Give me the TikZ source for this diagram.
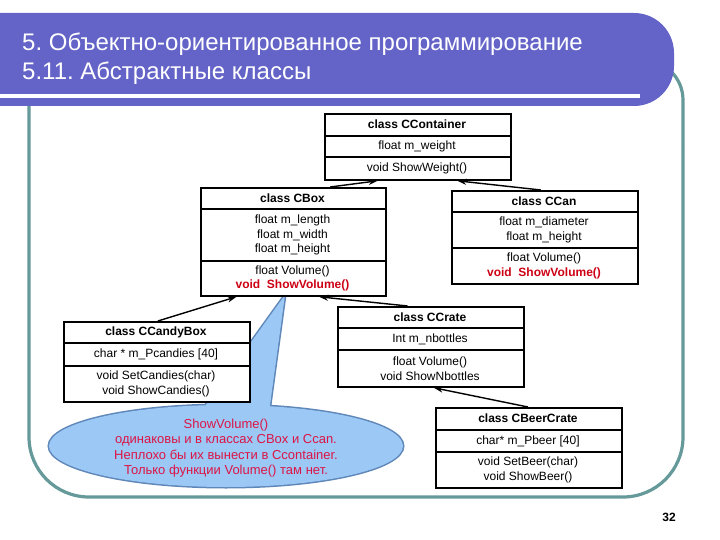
\documentclass[tikz,border=0pt]{standalone}
\usepackage{fontspec}
\setmainfont{Liberation Sans}
\usetikzlibrary{arrows.meta,calc}
\frenchspacing
\definecolor{bandc}{RGB}{100,100,200}
\definecolor{framec}{RGB}{102,153,153}
\definecolor{callfill}{RGB}{155,200,245}
\definecolor{callline}{RGB}{95,135,185}
\definecolor{calltext}{RGB}{220,20,70}
\definecolor{redm}{RGB}{205,0,20}
\tikzset{
  box/.style={draw, line width=1.8pt, fill=white, inner sep=0pt, anchor=north west},
  rowline/.style={line width=1.8pt},
  txt/.style={inner sep=0pt, align=center, font=\fontsize{12}{14.5}\selectfont},
  ttl/.style={inner sep=0pt, align=center, font=\bfseries\fontsize{12}{14.5}\selectfont},
  inh/.style={line width=1.4pt, -{Stealth[length=9pt,width=6pt]}},
  framel/.style={draw=framec, line width=3.2pt},
  titletxt/.style={anchor=base west, inner sep=0pt, text=white, font=\fontsize{24}{28}\selectfont}
}
\begin{document}
\frenchspacing
\begin{tikzpicture}[x=1pt,y=-1pt]
\useasboundingbox (0,0) rectangle (720,540);
\fill[white] (0,0) rectangle (720,540);
% frame
\draw[framel, rounded corners=60] (29,100) -- (29,497) -- (683,497) -- (683,150);
\draw[framel, rounded corners=40] (683,150) -- (683,60) -- (620,60);
% title band
\fill[bandc, rounded corners=40] (0,13) -- (674,13) -- (674,106) -- (0,106);
\draw[white, line width=3.5pt] (0,96) -- (640,96);
\node[titletxt] (t1) at (22,51) {5. Объектно-ориентированное программирование};
\node[titletxt] (t2) at (22,80) {5.11. Абстрактные классы};
% callout
\path[draw=callline, line width=3pt] (226,446) ellipse [x radius=177, y radius=41];
\path[draw=callline, line width=3pt, line join=round] (285,295) -- (268,420) -- (195,420) -- cycle;
\fill[callfill] (226,446) ellipse [x radius=177, y radius=41];
\fill[callfill] (285,295) -- (268,420) -- (195,420) -- cycle;
\node[inner sep=0pt, align=center, text=calltext, font=\fontsize{13}{15.4}\selectfont] (note) at (226,448)
  {ShowVolume()\\одинаковы и в классах CBox и Ccan.\\Неплохо бы их вынести в Ccontainer.\\Только функции Volume() там нет.};
% CContainer
\node[box, minimum width=186pt, minimum height=66pt] (cont) at (324,113) {};
\draw[rowline] (324,136) -- (510,136);
\draw[rowline] (324,157) -- (510,157);
\node[ttl] (contT) at (417,124.5) {class CContainer};
\node[txt] (contF) at (417,146.5) {float m\_weight};
\node[txt] (contM) at (417,168) {void ShowWeight()};
% CBox
\node[box, minimum width=185pt, minimum height=108pt] (cbox) at (200,187) {};
\draw[rowline] (200,209) -- (385,209);
\draw[rowline] (200,261) -- (385,261);
\node[ttl] (cboxT) at (292.5,198) {class CBox};
\node[txt] (cboxF) at (292.5,235) {float m\_length\\float m\_width\\float m\_height};
\node[txt] (cboxM) at (292.5,278.5) {float Volume()\\{\bfseries\color{redm}void\ \ ShowVolume()}};
% CCan
\node[box, minimum width=186pt, minimum height=93pt] (ccan) at (451,190) {};
\draw[rowline] (451,212) -- (637,212);
\draw[rowline] (451,248) -- (637,248);
\node[ttl] (ccanT) at (544,201) {class CCan};
\node[txt] (ccanF) at (544,230) {float m\_diameter\\float m\_height};
\node[txt] (ccanM) at (544,266) {float Volume()\\{\bfseries\color{redm}void\ \ ShowVolume()}};
% CCrate
\node[box, minimum width=186pt, minimum height=80pt] (ccrate) at (337,306) {};
\draw[rowline] (337,328) -- (523,328);
\draw[rowline] (337,350) -- (523,350);
\node[ttl] (ccrateT) at (430,317) {class CCrate};
\node[txt] (ccrateF) at (430,339) {Int m\_nbottles};
\node[txt] (ccrateM) at (430,368.5) {float Volume()\\void ShowNbottles};
% CCandyBox
\node[box, minimum width=186pt, minimum height=80pt] (candy) at (63,321) {};
\draw[rowline] (63,343) -- (249,343);
\draw[rowline] (63,366) -- (249,366);
\node[ttl] (candyT) at (156,332) {class CCandyBox};
\node[txt] (candyF) at (156,354.5) {char * m\_Pcandies [40]};
\node[txt] (candyM) at (156,384) {void SetCandies(char)\\void ShowCandies()};
% CBeerCrate
\node[box, minimum width=186pt, minimum height=80pt] (beer) at (435,407) {};
\draw[rowline] (435,430) -- (621,430);
\draw[rowline] (435,452) -- (621,452);
\node[ttl] (beerT) at (528,418.5) {class CBeerCrate};
\node[txt] (beerF) at (528,441) {char* m\_Pbeer [40]};
\node[txt] (beerM) at (528,470) {void SetBeer(char)\\void ShowBeer()};
% inheritance arrows
\draw[inh] ($(cbox.north west)!0.697!(cbox.north east)$) -- ($(cont.south west)!0.285!(cont.south east)$);
\draw[inh] ($(ccan.north west)!0.478!(ccan.north east)$) -- ($(cont.south west)!0.71!(cont.south east)$);
\draw[inh] ($(candy.north west)!0.505!(candy.north east)$) -- ($(cbox.south west)!0.195!(cbox.south east)$);
\draw[inh] ($(ccrate.north west)!0.376!(ccrate.north east)$) -- ($(cbox.south west)!0.638!(cbox.south east)$);
\draw[inh] ($(beer.north west)!0.495!(beer.north east)$) -- ($(ccrate.south west)!0.516!(ccrate.south east)$);
% page number
\node[inner sep=0pt, font=\bfseries\fontsize{12}{14}\selectfont] (pg) at (669,517) {32};
\end{tikzpicture}
\end{document}
